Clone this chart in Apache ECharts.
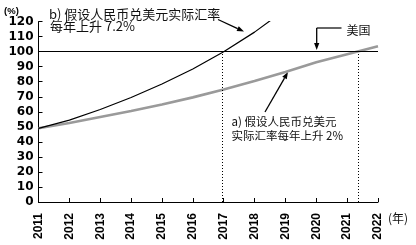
<!DOCTYPE html>
<html>
<head>
<meta charset="utf-8">
<script src="https://cdn.jsdelivr.net/npm/echarts@6/dist/echarts.min.js"></script>
<style>
  html, body { margin: 0; padding: 0; background: #fff; }
  #chart { width: 416px; height: 245px; }
</style>
</head>
<body>
<div id="chart"></div>
<script>
// years on the x axis
const years = [2011, 2012, 2013, 2014, 2015, 2016, 2017, 2018, 2019, 2020, 2021, 2022];
// b) 7.2% per year (runs off the top of the chart after 2018)
const fast = [49, 54.5, 61.5, 69.5, 78.5, 88.5, 100, 113, 128];
// a) 2% per year
const slow = [49, 52.5, 56.5, 60.5, 64.8, 69.6, 74.8, 80.5, 86.5, 93, 98.3, 103.6];
// US level and where the two lines reach it
const usLevel = 100;
const crossFast = 2016.96;
const crossSlow = 2021.36;

const pairs = (vals) => vals.map((v, i) => [years[i], v]);

const cjk = "'Noto Sans CJK SC', sans-serif";

function arrow(x1, y1, x2, y2) {
  const a = Math.atan2(y2 - y1, x2 - x1);
  const L = 7, W = 2.6;
  const bx = x2 - L * Math.cos(a), by = y2 - L * Math.sin(a);
  return [
    { type: "line", shape: { x1: x1, y1: y1, x2: bx, y2: by }, style: { stroke: "#000", lineWidth: 1.3 } },
    {
      type: "polygon",
      shape: {
        points: [
          [x2, y2],
          [bx - W * Math.sin(a), by + W * Math.cos(a)],
          [bx + W * Math.sin(a), by - W * Math.cos(a)],
        ],
      },
      style: { fill: "#000" },
    },
  ];
}

function label(text, x, y, size, extra) {
  return {
    type: "text",
    x: x,
    y: y,
    style: Object.assign(
      { text: text, font: size + "px " + cjk, fill: "#111", verticalAlign: "middle", align: "left" },
      extra || {}
    ),
  };
}

const chart = echarts.init(document.getElementById("chart"), null, { renderer: "canvas" });

const option = {
  backgroundColor: "#fff",
  animation: false,
  grid: { left: 38.5, right: 38, top: 21.6, bottom: 43 },
  xAxis: {
    type: "value",
    min: 2011,
    max: 2022,
    interval: 1,
    splitLine: { show: false },
    axisLine: { show: true, lineStyle: { color: "#000", width: 1 } },
    axisTick: { show: true, inside: true, length: 4, lineStyle: { color: "#000" } },
    axisLabel: {
      rotate: 90,
      margin: 11,
      formatter: (v) => String(v),
      color: "#000",
      fontFamily: "'Liberation Sans', Arial, sans-serif",
      fontWeight: "bold",
      fontSize: 12,
    },
  },
  yAxis: {
    type: "value",
    min: 0,
    max: 120,
    interval: 10,
    splitLine: { show: false },
    axisLine: { show: true, lineStyle: { color: "#000", width: 1 } },
    axisTick: { show: true, inside: true, length: 4, lineStyle: { color: "#000" } },
    axisLabel: {
      margin: 5,
      color: "#000",
      fontFamily: "'DejaVu Sans', sans-serif",
      fontWeight: "bold",
      fontSize: 12,
    },
  },
  series: [
    {
      name: "a",
      type: "line",
      data: pairs(slow),
      symbol: "none",
      lineStyle: { color: "#9a9a9a", width: 2.6 },
      z: 2,
    },
    {
      name: "b",
      type: "line",
      data: pairs(fast),
      symbol: "none",
      clip: true,
      lineStyle: { color: "#000", width: 1.2 },
      z: 3,
      markLine: {
        silent: true,
        symbol: "none",
        label: { show: false },
        data: [
          { yAxis: usLevel, lineStyle: { color: "#000", width: 1, type: "solid" } },
          [
            { coord: [crossFast, 0], lineStyle: { color: "#000", width: 1, type: [1, 2] } },
            { coord: [crossFast, usLevel] },
          ],
          [
            { coord: [crossSlow, 0], lineStyle: { color: "#000", width: 1, type: [1, 2] } },
            { coord: [crossSlow, usLevel] },
          ],
        ],
      },
    },
  ],
  graphic: [
    {
      type: "text",
      x: 11.5,
      y: 11.5,
      style: {
        text: "(%)",
        font: "bold 9.5px 'Liberation Sans', Arial, sans-serif",
        fill: "#000",
        align: "center",
        verticalAlign: "middle",
      },
    },
    label("b) 假设人民币兑美元实际汇率", 49, 14, 13),
    label("每年上升 7.2%", 50, 26.5, 13),
    label("a) 假设人民币兑美元", 231.5, 121.5, 11.5),
    label("实际汇率每年上升 2%", 231.5, 136, 11.5),
    label("美国", 346.5, 30, 12),
    label("(年)", 388, 218, 12),
    { type: "line", shape: { x1: 316.7, y1: 28, x2: 341.5, y2: 28 }, style: { stroke: "#000", lineWidth: 1.2 } },
  ]
    .concat(arrow(316.7, 28, 316.7, 50))
    .concat(arrow(218, 19.5, 244, 31.5))
    .concat(arrow(265, 112, 288, 72)),
};

chart.setOption(option);
</script>
</body>
</html>
